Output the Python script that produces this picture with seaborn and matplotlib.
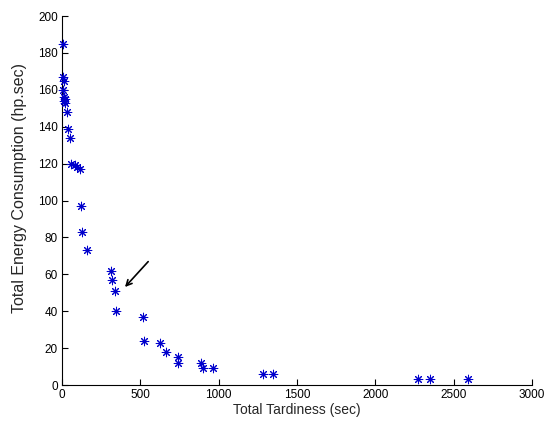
import numpy as np
import pandas as pd
import matplotlib
matplotlib.use("Agg")
import matplotlib.pyplot as plt
import seaborn as sns

# Pareto front points
tardiness = [8, 5, 10, 7, 13, 15, 19, 22, 30, 40, 51, 55, 81, 98, 115,
             121, 126, 158, 311, 322, 337, 345, 515, 524, 624, 665, 743, 739,
             890, 899, 965, 1280, 1350, 2270, 2350, 2590]
energy = [185, 167, 165, 160, 156, 154, 153, 155, 148, 139, 134, 120, 119, 118, 117,
          97, 83, 73, 62, 57, 51, 40, 37, 24, 23, 18, 15, 12,
          12, 9, 9, 6, 6, 3, 3, 3]

arrow_tail = (562, 68)
arrow_head = (390, 52)

df = pd.DataFrame({"tardiness": tardiness, "energy": energy})

sns.set_style("white")
plt.rcParams['font.family'] = ['Liberation Sans', 'DejaVu Sans']

fig = plt.figure(figsize=(5.45, 4.26), dpi=100)
ax = fig.add_axes([0.1138, 0.0962, 0.8622, 0.8662])

sns.scatterplot(data=df, x="tardiness", y="energy", ax=ax,
                marker=(8, 2, 0), s=38, color="#0000cc", linewidth=0.75,
                legend=False, clip_on=False, zorder=3)

ax.annotate("", xy=arrow_head, xytext=arrow_tail,
            arrowprops=dict(arrowstyle="->", color="black", lw=1.2))

ax.set_xlim(0, 3000)
ax.set_ylim(0, 200)
ax.set_xticks(np.arange(0, 3001, 500))
ax.set_yticks(np.arange(0, 201, 20))
ax.tick_params(direction="in", length=4, labelsize=8.5, colors="black",
               left=True, bottom=True, pad=3)
ax.set_xlabel("Total Tardiness (sec)", fontsize=10, labelpad=1)
ax.set_ylabel("Total Energy Consumption (hp.sec)", fontsize=11.5)
ax.yaxis.set_label_coords(-0.074, 0.535)
for side in ["top", "right"]:
    ax.spines[side].set_visible(False)
for side in ["left", "bottom"]:
    ax.spines[side].set_color("black")
    ax.spines[side].set_linewidth(0.8)

fig.savefig("out.png", dpi=100, facecolor="white")
